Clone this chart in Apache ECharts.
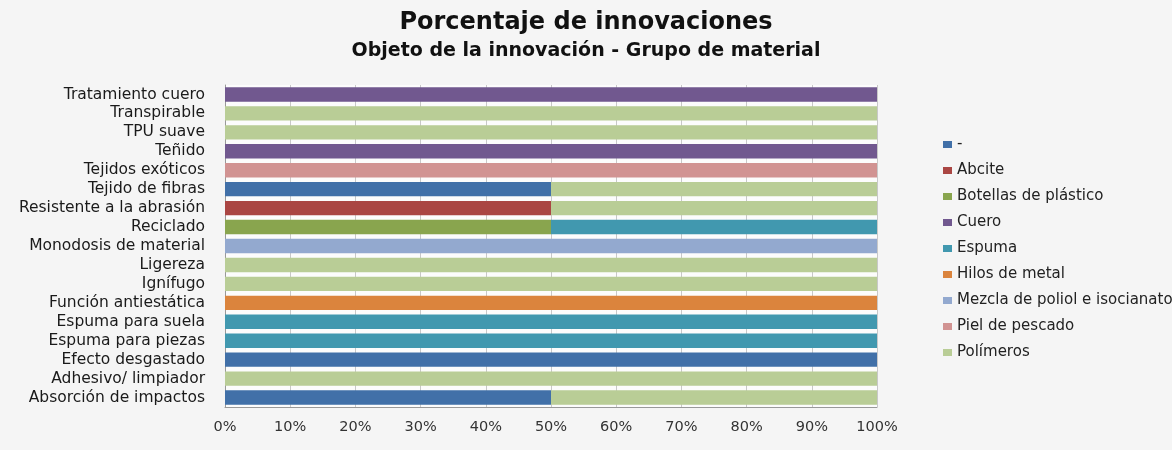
<!DOCTYPE html>
<html>
<head>
<meta charset="utf-8">
<script src="https://cdn.jsdelivr.net/npm/echarts@6/dist/echarts.min.js"></script>
<style>html,body{margin:0;padding:0;background:#fff;}#c{width:1172px;height:450px;}</style>
</head>
<body>
<div id="c"></div>
<script>
const categories = ["Absorción de impactos","Adhesivo/ limpiador","Efecto desgastado","Espuma para piezas","Espuma para suela","Función antiestática","Ignífugo","Ligereza","Monodosis de material","Reciclado","Resistente a la abrasión","Tejido de fibras","Tejidos exóticos","Teñido","TPU suave","Transpirable","Tratamiento cuero"];
const seriesNames = ["-","Abcite","Botellas de plástico","Cuero","Espuma","Hilos de metal","Mezcla de poliol e isocianato","Piel de pescado","Polímeros"];
const seriesColors = ["#4170A8","#AA4643","#89A54E","#71588F","#4198AF","#DB843D","#93A9CF","#D19392","#B9CD96"];
const dash       = [50,0,100,0,0,0,0,0,0,0,0,50,0,0,0,0,0];
const abcite     = [0,0,0,0,0,0,0,0,0,0,50,0,0,0,0,0,0];
const botellas   = [0,0,0,0,0,0,0,0,0,50,0,0,0,0,0,0,0];
const cuero      = [0,0,0,0,0,0,0,0,0,0,0,0,0,100,0,0,100];
const espuma     = [0,0,0,100,100,0,0,0,0,50,0,0,0,0,0,0,0];
const hilos      = [0,0,0,0,0,100,0,0,0,0,0,0,0,0,0,0,0];
const mezcla     = [0,0,0,0,0,0,0,0,100,0,0,0,0,0,0,0,0];
const piel       = [0,0,0,0,0,0,0,0,0,0,0,0,100,0,0,0,0];
const polimeros  = [50,100,0,0,0,0,100,100,0,0,50,50,0,0,100,100,0];
const seriesData = [dash,abcite,botellas,cuero,espuma,hilos,mezcla,piel,polimeros];
const xTicks = [0,10,20,30,40,50,60,70,80,90,100];

const font = "'DejaVu Sans', sans-serif";
const chart = echarts.init(document.getElementById('c'));
chart.setOption({
  backgroundColor: '#f5f5f5',
  animation: false,
  title: [
    {text: 'Porcentaje de innovaciones', left: 'center', top: 6,
     textStyle: {fontFamily: font, fontSize: 24, fontWeight: 'bold', color: '#111'}},
    {text: 'Objeto de la innovación - Grupo de material', left: 'center', top: 37,
     textStyle: {fontFamily: font, fontSize: 19, fontWeight: 'bold', color: '#111'}}
  ],
  legend: {
    orient: 'vertical', left: 938, top: 132,
    itemWidth: 9, itemHeight: 7, itemGap: 11,
    icon: 'rect',
    data: seriesNames,
    textStyle: {fontFamily: font, fontSize: 15, color: '#222', height: 15, lineHeight: 15}
  },
  grid: {left: 225, right: 295, top: 85, bottom: 43, show: true, backgroundColor: '#fcfcfc', borderWidth: 0},
  xAxis: {
    type: 'value', min: 0, max: 100, interval: 10,
    axisLabel: {formatter: v => v + '%', fontFamily: font, fontSize: 14.5, color: '#333', margin: 13},
    axisLine: {show: true, lineStyle: {color: '#999'}},
    axisTick: {show: false},
    splitLine: {show: true, lineStyle: {color: '#c8c8c8'}}
  },
  yAxis: {
    type: 'category', data: categories,
    axisLabel: {interval: 0, fontFamily: font, fontSize: 15.5, color: '#1a1a1a', margin: 20},
    axisLine: {show: true, lineStyle: {color: '#999'}},
    axisTick: {show: false}
  },
  series: seriesNames.map((n, i) => ({
    name: n, type: 'bar', stack: 'total', barCategoryGap: '24%',
    data: seriesData[i],
    itemStyle: {color: seriesColors[i]}
  }))
});
</script>
</body>
</html>
